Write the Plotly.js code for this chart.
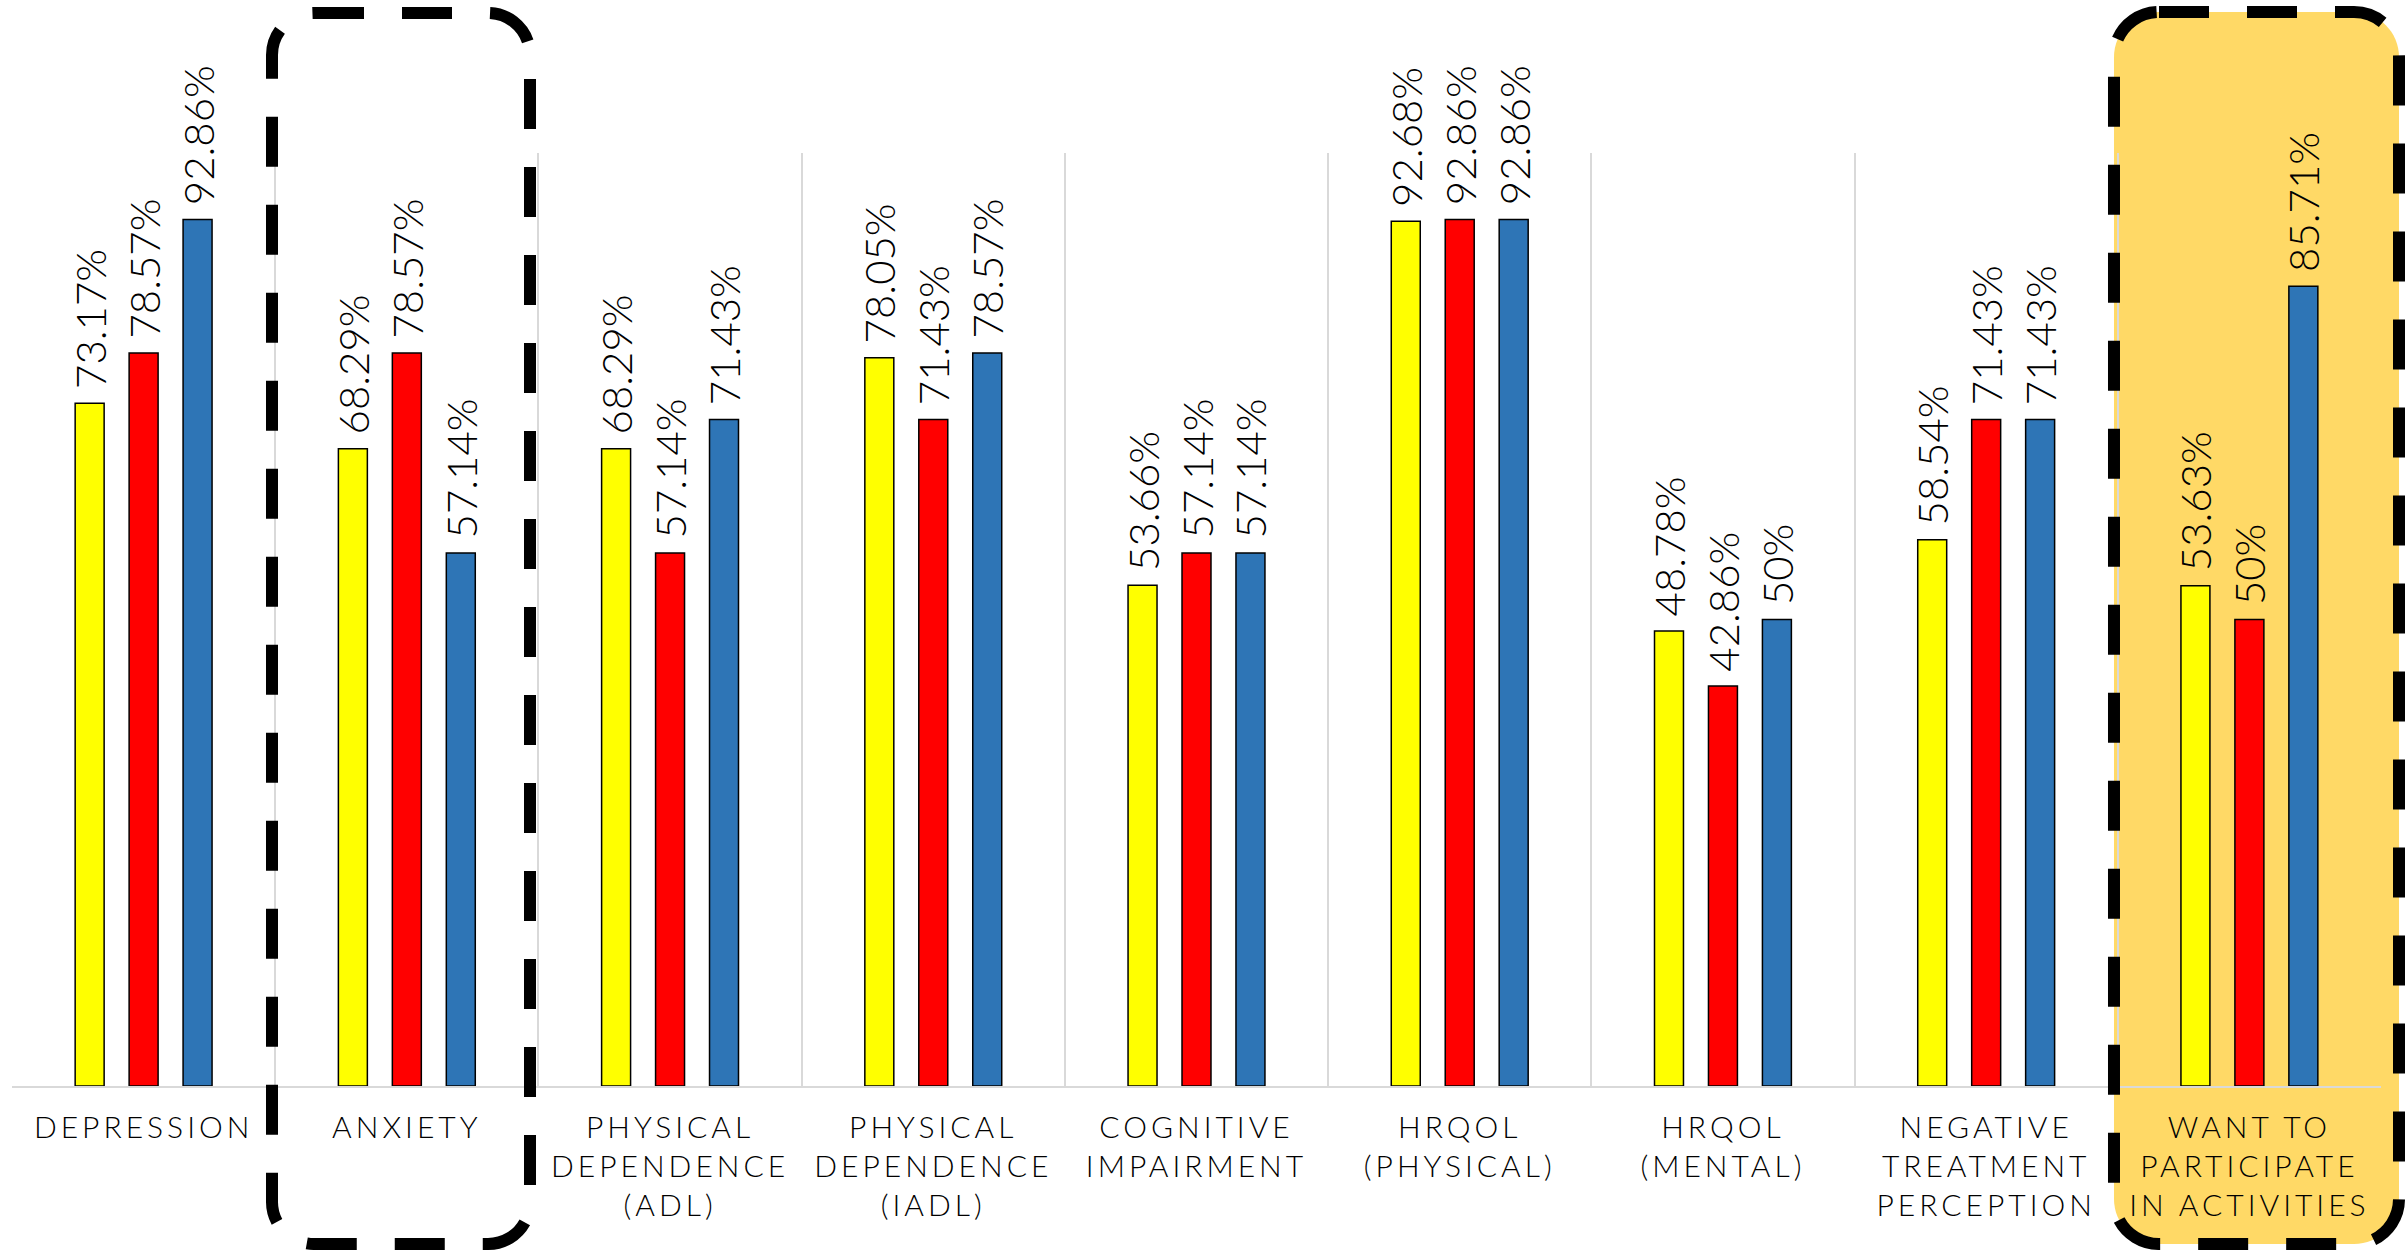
<!DOCTYPE html>
<html><head><meta charset="utf-8">
<script src="https://cdn.plot.ly/plotly-3.0.1.min.js"></script>
<style>
html,body{margin:0;padding:0;background:#fff;}
#chart{width:2405px;height:1250px;}
.xtick text{letter-spacing:4px;}
</style></head><body><div id="chart"></div>
<script>
const categories = [
  "DEPRESSION",
  "ANXIETY",
  "PHYSICAL<br>DEPENDENCE<br>(ADL)",
  "PHYSICAL<br>DEPENDENCE<br>(IADL)",
  "COGNITIVE<br>IMPAIRMENT",
  "HRQOL<br>(PHYSICAL)",
  "HRQOL<br>(MENTAL)",
  "NEGATIVE<br>TREATMENT<br>PERCEPTION",
  "WANT TO<br>PARTICIPATE<br>IN ACTIVITIES"
];
const yellowValues = [73.17, 68.29, 68.29, 78.05, 53.66, 92.68, 48.78, 58.54, 53.63];
const redValues    = [78.57, 78.57, 57.14, 71.43, 57.14, 92.86, 42.86, 71.43, 50];
const blueValues   = [92.86, 57.14, 71.43, 78.57, 57.14, 92.86, 50, 71.43, 85.71];
const seriesNames  = ["Series 1", "Series 2", "Series 3"];
const seriesColors = ["#FFFF00", "#FF0000", "#2E75B6"];

const W = 2405, H = 1250;
const M = {l: 12, r: 24, t: 153, b: 164};
const PW = W - M.l - M.r, PH = H - M.t - M.b;
const LABEL_FONT = "Lato, 'Open Sans', sans-serif";

function mkTrace(vals, i) {
  return {
    type: "bar", x: categories, y: vals, name: seriesNames[i],
    marker: {color: seriesColors[i], line: {color: "#000", width: 1.5}},
    text: vals.map(v => "\u00a0" + v + "%"),
    textposition: "outside", textangle: -90, constraintext: "none",
    cliponaxis: false,
    textfont: {family: LABEL_FONT, size: 42, color: "#000", weight: 300},
    hoverinfo: "skip"
  };
}

// decorative rounded rectangles (pixel coords -> paper)
function px(x){ return ((x - M.l) / PW).toFixed(5); }
function py(y){ return ((H - M.b - y) / PH).toFixed(5); }
function roundRect(L, R, T, B, r){
  const c = 0.5523 * r;
  return "M" + px(L + r) + "," + py(T) +
    " L" + px(R - r) + "," + py(T) +
    " C" + px(R - r + c) + "," + py(T) + " " + px(R) + "," + py(T + r - c) + " " + px(R) + "," + py(T + r) +
    " L" + px(R) + "," + py(B - r) +
    " C" + px(R) + "," + py(B - r + c) + " " + px(R - r + c) + "," + py(B) + " " + px(R - r) + "," + py(B) +
    " L" + px(L + r) + "," + py(B) +
    " C" + px(L + r - c) + "," + py(B) + " " + px(L) + "," + py(B - r + c) + " " + px(L) + "," + py(B - r) +
    " L" + px(L) + "," + py(T + r) +
    " C" + px(L) + "," + py(T + r - c) + " " + px(L + r - c) + "," + py(T) + " " + px(L + r) + "," + py(T) + " Z";
}
const anxietyBox = roundRect(272, 530, 13, 1244, 42);
const wantBox = roundRect(2114, 2399, 12, 1244, 45);

const layout = {
  width: W, height: H,
  margin: M,
  paper_bgcolor: "#fff", plot_bgcolor: "rgba(0,0,0,0)",
  showlegend: false,
  barmode: "group", bargap: 0.385, bargroupgap: 0.463,
  xaxis: {
    type: "category", range: [-0.5, 8.5], fixedrange: true,
    tickson: "boundaries", ticks: "", showgrid: true, gridcolor: "#d9d9d9", gridwidth: 2,
    showline: true, linecolor: "#d9d9d9", linewidth: 2,
    tickfont: {family: LABEL_FONT, size: 30, color: "#000", weight: 300},
    ticklabelstandoff: 14, automargin: false
  },
  yaxis: {
    range: [0, 100], showgrid: false, zeroline: false, showticklabels: false,
    ticks: "", showline: false, fixedrange: true
  },
  shapes: [
    {type: "path", xref: "paper", yref: "paper", path: wantBox, layer: "below",
     fillcolor: "#FFD966", line: {width: 0}},
    {type: "path", xref: "paper", yref: "paper", path: wantBox, layer: "above",
     fillcolor: "rgba(0,0,0,0)", line: {color: "#000", width: 12, dash: "50px,38px"}},
    {type: "path", xref: "paper", yref: "paper", path: anxietyBox, layer: "above",
     fillcolor: "rgba(0,0,0,0)", line: {color: "#000", width: 12, dash: "50px,38px"}}
  ]
};

Plotly.newPlot("chart", [mkTrace(yellowValues,0), mkTrace(redValues,1), mkTrace(blueValues,2)], layout,
  {staticPlot: true, displayModeBar: false});
</script></body></html>
